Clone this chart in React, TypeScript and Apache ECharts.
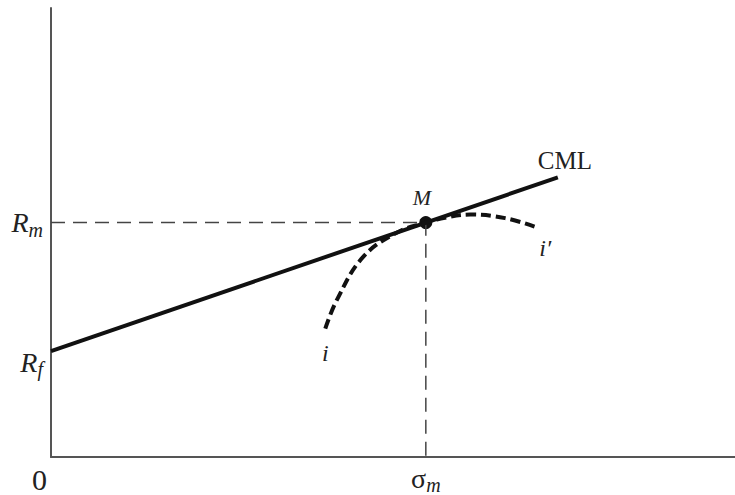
import React, { useEffect, useRef } from "react";
import * as echarts from "echarts";

const Rf = 23.6;
const Rm = 52.2;
const sigmaM = 54.8;
const cmlX = [0, 74.1];
const curveLower = [
  [40.1, 28.6],
  [41.8, 35.0],
  [45.6, 44.5],
  [50.6, 50.0],
  [54.8, 52.2],
];
const curveUpper = [
  [56.4, 52.9],
  [61.3, 54.0],
  [66.4, 53.2],
  [71.1, 51.1],
];
const yTickLabels = ["R_f", "R_m"];
const xTickLabels = ["σ_m"];

const serif = "Liberation Serif";

export default function App() {
  const ref = useRef<HTMLDivElement>(null);
  useEffect(() => {
    const chart = echarts.init(ref.current!, null, { renderer: "svg" });
    const slope = (Rm - Rf) / sigmaM;
    const cml = cmlX.map((x) => [x, Rf + slope * x]);
    const curve = [...curveLower, ...curveUpper];
    const curveData = curve.map((p, i) => {
      if (i === 0)
        return {
          value: p,
          label: { show: true, formatter: "i", position: "bottom", distance: 12 },
        };
      if (i === curve.length - 1)
        return {
          value: p,
          label: { show: true, formatter: "i′", position: "bottom", distance: 6, offset: [8, 2] },
        };
      return { value: p };
    });
    const rich = {
      r: { fontFamily: serif, fontStyle: "italic", fontSize: 28, color: "#222" },
      g: { fontFamily: serif, fontSize: 28, color: "#222" },
      s: { fontFamily: serif, fontStyle: "italic", fontSize: 20, color: "#222", padding: [14, 0, 0, 0] },
      r2: { fontFamily: serif, fontStyle: "italic", fontSize: 28, color: "#222", padding: [22, 0, 0, 0] },
      s2: { fontFamily: serif, fontStyle: "italic", fontSize: 20, color: "#222", padding: [36, 0, 0, 0] },
    };
    const fmt = (t: string, low = false) => {
      const [a, b] = t.split("_");
      if (low) return `{r2|${a}}{s2|${b}}`;
      const base = a === "σ" ? `{g|${a}}` : `{r|${a}}`;
      return `${base}{s|${b}}`;
    };
    chart.setOption({
      animation: false,
      grid: { left: 51, top: 8, right: 0, bottom: 33 },
      xAxis: {
        type: "value",
        min: 0,
        max: 100,
        splitLine: { show: false },
        axisLine: { show: true, lineStyle: { color: "#555", width: 2 } },
        axisTick: { show: false },
        axisLabel: {
          customValues: [sigmaM],
          formatter: () => fmt(xTickLabels[0]),
          rich,
          margin: 4,
        },
      },
      yAxis: {
        type: "value",
        min: 0,
        max: 100,
        splitLine: { show: false },
        axisLine: { show: true, lineStyle: { color: "#555", width: 2 } },
        axisTick: { show: false },
        axisLabel: {
          customValues: [Rf, Rm],
          formatter: (v: number) =>
            Math.abs(v - Rf) < 0.01 ? fmt(yTickLabels[0], true) : fmt(yTickLabels[1]),
          rich,
          margin: 8,
        },
      },
      series: [
        {
          type: "line",
          data: [
            [0, Rm],
            [sigmaM, Rm],
            [sigmaM, 0],
          ],
          showSymbol: false,
          lineStyle: { color: "#444", width: 1.5, type: [14, 8] },
          silent: true,
        },
        {
          type: "line",
          data: cml.map((p, i) =>
            i === cml.length - 1
              ? {
                  value: p,
                  label: {
                    show: true,
                    formatter: "CML",
                    position: "right",
                    offset: [-25, -17],
                    fontFamily: serif,
                    fontSize: 25,
                    color: "#222",
                  },
                }
              : { value: p }
          ),
          showSymbol: true,
          symbolSize: 0,
          lineStyle: { color: "#111", width: 4 },
        },
        {
          type: "line",
          data: curveData,
          smooth: 0.4,
          showSymbol: true,
          symbolSize: 0,
          label: { fontFamily: serif, fontStyle: "italic", fontSize: 24, color: "#222" },
          lineStyle: { color: "#111", width: 4, type: [10, 5] },
        },
        {
          type: "scatter",
          data: [[sigmaM, Rm]],
          symbolSize: 13,
          itemStyle: { color: "#111", opacity: 1 },
          label: {
            show: true,
            formatter: "M",
            position: "top",
            distance: 8,
            offset: [-4, 0],
            fontFamily: serif,
            fontStyle: "italic",
            fontSize: 22,
            color: "#222",
          },
        },
      ],
      graphic: [
        {
          type: "text",
          x: 39.5,
          y: 479,
          style: {
            text: "0",
            font: `30px "${serif}"`,
            fill: "#222",
            textAlign: "center",
            textVerticalAlign: "middle",
          },
        },
      ],
    });
    return () => chart.dispose();
  }, []);
  return (
    <div
      ref={ref}
      style={{ position: "fixed", left: 0, top: 0, width: 735, height: 495, background: "#fff" }}
    />
  );
}
